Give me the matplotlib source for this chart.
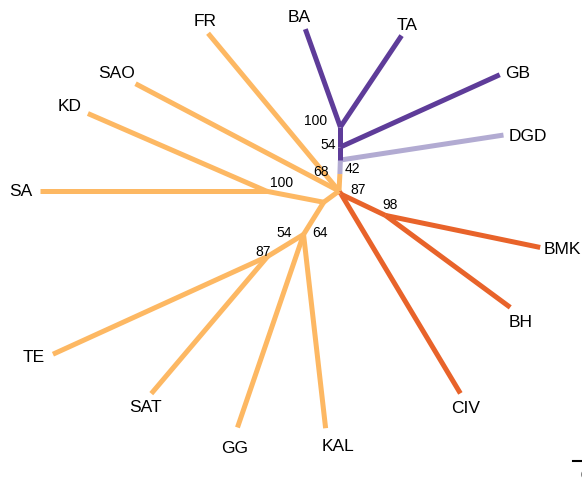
import numpy as np
import matplotlib
matplotlib.use('Agg')
import matplotlib.pyplot as plt

plt.rcParams['font.family'] = ['Liberation Sans', 'DejaVu Sans']

# tree: edges as parent -> child with branch length and layout angle (deg)
parents = ['X', 'R', 'S', 'S', 'R', 'X', 'D', 'C', 'C', 'B', 'B', 'A', 'A',
           'X', 'X', 'X', 'Y', 'Z', 'Z', 'Y', 'W', 'V', 'V', 'W', 'W']
children = ['R', 'S', 'BMK', 'BH', 'CIV', 'D', 'C', 'DGD', 'B', 'GB', 'A', 'BA', 'TA',
            'FR', 'SAO', 'Y', 'Z', 'KD', 'SA', 'W', 'V', 'TE', 'SAT', 'GG', 'KAL']
lengths = [0.004, 0.049, 0.158, 0.155, 0.232, 0.017, 0.014, 0.165, 0.013, 0.175, 0.020, 0.104, 0.110,
           0.205, 0.230, 0.019, 0.058, 0.195, 0.227, 0.038, 0.042, 0.236, 0.180, 0.204, 0.195]
angles = [-56, -25.5, -11.7, -36.4, -59.1, 87, 88, 8.7, 90, 24.4, 90, 109.7, 56.2,
          129.7, 152.2, -143.7, 169.1, 156.5, 180, -122, -148.6, -155.5, -130.3, -108.9, -83.5]

red = ['R', 'S', 'BMK', 'BH', 'CIV']
light_purple = ['C', 'DGD']
dark_purple = ['B', 'GB', 'A', 'BA', 'TA']

support_nodes = ['A', 'B', 'D', 'C', 'R', 'S', 'Z', 'W', 'W', 'V']
support_vals = ['100', '54', '68', '42', '87', '98', '100', '54', '64', '87']

leaves = ['FR', 'BA', 'TA', 'GB', 'DGD', 'BMK', 'BH', 'CIV', 'KAL', 'GG', 'SAT', 'TE', 'SA', 'KD', 'SAO']

# styling
col = {'red': '#E8632A', 'orange': '#FDB863', 'lp': '#B2ABD2', 'dp': '#5E3C99'}
leaf_nudge = {'FR': (-3, 12), 'BA': (-6, 12), 'TA': (6, 10), 'GB': (18, 1), 'DGD': (24, -1),
              'BMK': (22, -2), 'BH': (10, -15), 'CIV': (5, -15), 'KAL': (12, -18), 'GG': (-3, -21),
              'SAT': (-6, -14), 'TE': (-19, -3), 'SA': (-19, 0), 'KD': (-18, 7), 'SAO': (-19, 10)}
support_nudge = [(-25, 6), (-12, 2), (-19, 2), (12, -9), (17, 4), (5, 10), (15, 8),
                 (-19, 1), (16, 1), (-5, 4)]

# layout
pos = {'X': (0.0, 0.0)}
for p, c, l, a in zip(parents, children, lengths, angles):
    x0, y0 = pos[p]
    pos[c] = (x0 + l * np.cos(np.radians(a)), y0 + l * np.sin(np.radians(a)))


def colour(node):
    if node in red:
        return col['red']
    if node in light_purple:
        return col['lp']
    if node in dark_purple:
        return col['dp']
    return col['orange']


fig = plt.figure(figsize=(5.82, 4.84), dpi=100)
ax = fig.add_axes([0, 0, 1, 1])

for p, c in zip(parents, children):
    ax.plot([pos[p][0], pos[c][0]], [pos[p][1], pos[c][1]], color=colour(c),
            lw=3.6, solid_capstyle='butt', zorder=2)

for leaf in leaves:
    ax.annotate(leaf, pos[leaf], xytext=leaf_nudge[leaf], textcoords='offset pixels',
                ha='center', va='center', fontsize=12.5)

for n, v, off in zip(support_nodes, support_vals, support_nudge):
    ax.annotate(v, pos[n], xytext=off, textcoords='offset pixels',
                ha='center', va='center', fontsize=10, zorder=3)

# scale bar (runs off the right edge, as in the original)
ax.plot([0.234, 0.274], [-0.270, -0.270], color='black', lw=1.5)
ax.text(0.254, -0.285, '0.05', ha='center', va='center', fontsize=9.5)

ax.set_xlim(-0.339, 0.243)
ax.set_ylim(-0.293, 0.191)
ax.axis('off')
fig.savefig('out.png', dpi=100)
